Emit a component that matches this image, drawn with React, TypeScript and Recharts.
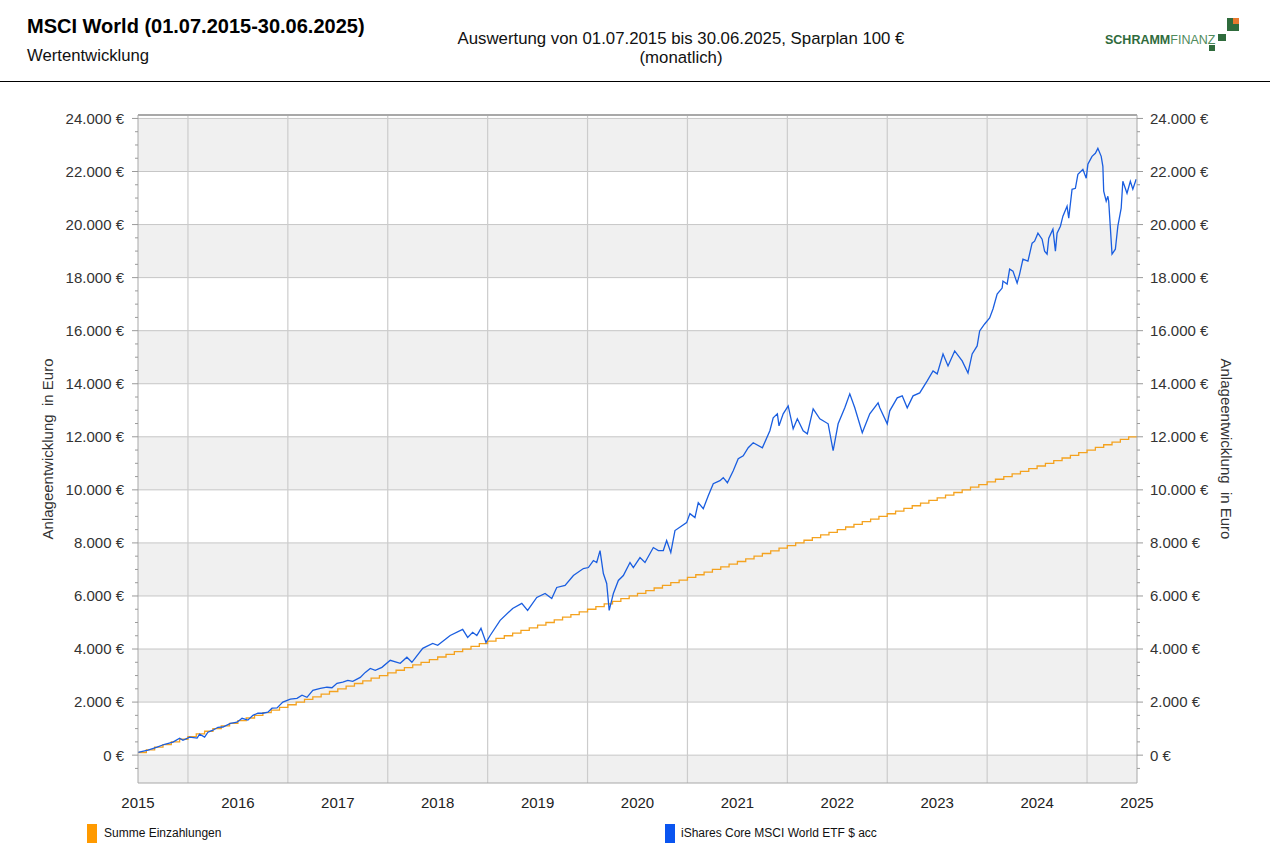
import React from "react";
import {
  LineChart,
  Line,
  XAxis,
  YAxis,
  ReferenceArea,
  ReferenceLine,
} from "recharts";

// x = months since 01.07.2015
const xTickMonths = [0, 12, 24, 36, 48, 60, 72, 84, 96, 108, 120];
const yearLabels = ["2015", "2016", "2017", "2018", "2019", "2020", "2021", "2022", "2023", "2024", "2025"];
const yearStartMonths = [6, 18, 30, 42, 54, 66, 78, 90, 102, 114];

const yMajor = [0, 2000, 4000, 6000, 8000, 10000, 12000, 14000, 16000, 18000, 20000, 22000, 24000];
const bandStarts = [-2000, 2000, 6000, 10000, 14000, 18000, 22000];

// Summe Einzahlungen (Sparplan 100 € monatlich), one value per month
const payments = [
  100, 200, 300, 400, 500, 600, 700, 800, 900, 1000, 1100, 1200,
  1300, 1400, 1500, 1600, 1700, 1800, 1900, 2000, 2100, 2200, 2300, 2400,
  2500, 2600, 2700, 2800, 2900, 3000, 3100, 3200, 3300, 3400, 3500, 3600,
  3700, 3800, 3900, 4000, 4100, 4200, 4300, 4400, 4500, 4600, 4700, 4800,
  4900, 5000, 5100, 5200, 5300, 5400, 5500, 5600, 5700, 5800, 5900, 6000,
  6100, 6200, 6300, 6400, 6500, 6600, 6700, 6800, 6900, 7000, 7100, 7200,
  7300, 7400, 7500, 7600, 7700, 7800, 7900, 8000, 8100, 8200, 8300, 8400,
  8500, 8600, 8700, 8800, 8900, 9000, 9100, 9200, 9300, 9400, 9500, 9600,
  9700, 9800, 9900, 10000, 10100, 10200, 10300, 10400, 10500, 10600, 10700, 10800,
  10900, 11000, 11100, 11200, 11300, 11400, 11500, 11600, 11700, 11800, 11900, 12000,
  12000,
];

// iShares Core MSCI World ETF $ acc: [month, Depotwert]
const etfSeries: [number, number][] = [
  [0, 100], [1.2, 190], [2.3, 300], [3.2, 410], [4.2, 490], [5.0, 640], [5.4, 560],
  [6.2, 680], [7.1, 640], [7.4, 790], [8.0, 680], [8.4, 865], [9.0, 940], [9.6, 1050],
  [10.2, 1060], [11.1, 1200], [11.9, 1240], [12.5, 1390], [13.2, 1320], [13.8, 1500],
  [14.4, 1580], [15.0, 1580], [15.6, 1620], [16.1, 1770], [16.7, 1780], [17.4, 2000],
  [18.3, 2110], [19.1, 2140], [19.7, 2260], [20.3, 2180], [21.0, 2445], [21.9, 2520],
  [22.7, 2560], [23.3, 2540], [23.9, 2710], [24.6, 2750], [25.2, 2820], [25.8, 2780],
  [26.7, 2930], [27.3, 3120], [27.9, 3270], [28.5, 3200], [29.3, 3310], [30.3, 3574],
  [31.5, 3460], [32.3, 3690], [32.9, 3500], [34.2, 4025], [35.4, 4210], [36.0, 4140],
  [37.5, 4510], [39.0, 4740], [39.6, 4440], [40.2, 4630], [40.7, 4510], [41.2, 4780],
  [41.8, 4250], [42.3, 4510], [43.5, 5080], [45.0, 5530], [46.1, 5720], [46.8, 5455],
  [47.9, 5944], [48.9, 6094], [49.7, 5906], [50.3, 6320], [51.3, 6395], [52.3, 6772],
  [53.5, 7035], [54.1, 7072], [54.7, 7336], [55.1, 7260], [55.5, 7712], [55.9, 6847],
  [56.3, 6470], [56.6, 5455], [57.1, 6094], [57.7, 6584], [58.3, 6772], [59.1, 7260],
  [59.5, 7072], [60.3, 7449], [60.9, 7260], [61.9, 7825], [62.5, 7712], [63.1, 7712],
  [63.5, 8088], [64.0, 7637], [64.5, 8465], [65.9, 8765], [66.3, 9104], [66.9, 8954],
  [67.3, 9518], [67.9, 9292], [68.5, 9781], [69.1, 10233], [69.9, 10346], [70.3, 10458],
  [70.8, 10270], [71.5, 10722], [72.1, 11173], [72.7, 11286], [73.3, 11587], [73.9, 11775],
  [75.0, 11587], [75.9, 12227], [76.3, 12716], [76.8, 12866], [77.0, 12415], [77.5, 12866],
  [78.1, 13167], [78.7, 12302], [79.2, 12678], [79.9, 12227], [80.4, 12113], [81.1, 13054],
  [81.9, 12678], [82.9, 12490], [83.5, 11474], [84.1, 12490], [84.9, 13092], [85.5, 13618],
  [86.1, 13092], [87.0, 12151], [87.9, 12866], [88.9, 13280], [89.1, 13092], [90.0, 12490],
  [90.3, 12979], [91.2, 13468], [91.8, 13543], [92.4, 13092], [93.1, 13543], [93.9, 13656],
  [94.8, 14108], [95.5, 14484], [96.0, 14371], [96.7, 15123], [97.3, 14672], [98.1, 15236],
  [99.0, 14860], [99.7, 14408], [100.2, 15123], [100.8, 15424], [101.1, 15989], [101.7, 16252],
  [102.3, 16477], [102.7, 16816], [103.2, 17380], [103.8, 17606], [103.9, 17870], [104.4, 17757],
  [104.7, 18321], [105.1, 18246], [105.6, 17795], [105.9, 18133], [106.3, 18697], [106.9, 18622],
  [107.4, 19299], [107.7, 19374], [108.1, 19675], [108.6, 19449], [108.9, 18998], [109.2, 18885],
  [109.4, 19487], [109.9, 19826], [110.2, 18998], [110.4, 19675], [110.8, 19938], [111.1, 20315],
  [111.6, 20691], [111.8, 20240], [112.2, 21331], [112.6, 21368], [112.9, 21895], [113.5, 22083],
  [113.9, 21744], [114.1, 22271], [114.6, 22572], [115.0, 22685], [115.3, 22873], [115.7, 22572],
  [115.9, 22196], [116.0, 21255], [116.3, 20879], [116.5, 21067], [116.6, 20879], [117.0, 18885],
  [117.4, 19073], [117.7, 19938], [118.1, 20616], [118.3, 21632], [118.8, 21180], [119.2, 21632],
  [119.5, 21331], [119.9, 21707],
];

const FONT = '"Liberation Sans", Arial, Helvetica, sans-serif';
const PLOT_LEFT = 138;
const PLOT_RIGHT = 1137;
const Y_DOMAIN: [number, number] = [-1050, 24130];

const yTicks = [-500, ...yMajor.flatMap((v) => (v < 24000 ? [v, v + 500, v + 1000, v + 1500] : [v]))];

const fmtEuro = (v: number) =>
  String(v).replace(/\B(?=(\d{3})+(?!\d))/g, ".") + " €";

const LeftTick = (props: any) => {
  const { y, payload } = props;
  const major = payload.value % 2000 === 0;
  return (
    <g>
      <line x1={major ? PLOT_LEFT - 6 : PLOT_LEFT - 3} x2={PLOT_LEFT} y1={y} y2={y} stroke="#9a9a9a" />
      {major && (
        <text x={PLOT_LEFT - 14} y={y} dy="0.36em" textAnchor="end" fontSize={15} fill="#333" fontFamily={FONT}>
          {fmtEuro(payload.value)}
        </text>
      )}
    </g>
  );
};

const RightTick = (props: any) => {
  const { y, payload } = props;
  const major = payload.value % 2000 === 0;
  return (
    <g>
      <line x1={PLOT_RIGHT} x2={major ? PLOT_RIGHT + 6 : PLOT_RIGHT + 3} y1={y} y2={y} stroke="#9a9a9a" />
      {major && (
        <text x={PLOT_RIGHT + 13} y={y} dy="0.36em" textAnchor="start" fontSize={15} fill="#333" fontFamily={FONT}>
          {fmtEuro(payload.value)}
        </text>
      )}
    </g>
  );
};

const AxisTitle = ({ x, angle }: { x: number; angle: number }) => (
  <text
    x={x}
    y={449}
    transform={`rotate(${angle} ${x} 449)`}
    textAnchor="middle"
    dy="0.35em"
    fontSize={15}
    fill="#333"
    fontFamily={FONT}
    style={{ whiteSpace: "pre" }}
  >
    {"Anlageentwicklung  in Euro"}
  </text>
);

export default function App() {
  const payData = payments.map((v, i) => ({ m: i, v }));
  const etfData = etfSeries.map(([m, v]) => ({ m, v }));

  return (
    <div
      style={{
        position: "absolute",
        left: 0,
        top: 0,
        width: 1270,
        height: 852,
        background: "#fff",
        fontFamily: FONT,
        overflow: "hidden",
      }}
    >
      <div style={{ position: "absolute", left: 0, top: 0 }}>
        <LineChart width={1270} height={852} margin={{ top: 115, right: 0, bottom: 39, left: 0 }}>
          {bandStarts.map((b) => (
            <ReferenceArea
              key={b}
              yAxisId="left"
              y1={b}
              y2={b + 2000}
              ifOverflow="hidden"
              fill="#f0f0f0"
              fillOpacity={1}
              stroke="none"
            />
          ))}
          {yMajor.map((v) => (
            <ReferenceLine key={"h" + v} yAxisId="left" y={v} stroke="#c6c6c6" strokeWidth={1} />
          ))}
          {yearStartMonths.map((m) => (
            <ReferenceLine key={"v" + m} yAxisId="left" x={m} stroke="#cccccc" strokeWidth={1.2} />
          ))}
          <ReferenceLine yAxisId="left" y={Y_DOMAIN[1]} stroke="#a8a8a8" strokeWidth={2} />
          <XAxis
            dataKey="m"
            type="number"
            domain={[0, 120]}
            ticks={xTickMonths}
            interval={0}
            tickFormatter={(m: number) => yearLabels[xTickMonths.indexOf(m)]}
            tickLine={false}
            tickMargin={8}
            height={30}
            axisLine={{ stroke: "#a8a8a8" }}
            tick={{ fontSize: 15, fill: "#222", fontFamily: FONT }}
          />
          <YAxis
            yAxisId="left"
            orientation="left"
            type="number"
            domain={Y_DOMAIN}
            ticks={yTicks}
            interval={0}
            width={PLOT_LEFT}
            tickLine={false}
            axisLine={{ stroke: "#a8a8a8" }}
            tick={<LeftTick />}
            label={{ content: () => <AxisTitle x={48} angle={-90} /> }}
          />
          <YAxis
            yAxisId="right"
            orientation="right"
            type="number"
            domain={Y_DOMAIN}
            ticks={yTicks}
            interval={0}
            width={1270 - PLOT_RIGHT}
            tickLine={false}
            axisLine={{ stroke: "#a8a8a8" }}
            tick={<RightTick />}
            label={{ content: () => <AxisTitle x={1226} angle={90} /> }}
          />
          <Line
            yAxisId="right"
            data={payData}
            dataKey="v"
            type="stepAfter"
            stroke="#f4a21f"
            strokeWidth={1.3}
            dot={false}
            activeDot={false}
            isAnimationActive={false}
          />
          <Line
            yAxisId="left"
            data={etfData}
            dataKey="v"
            type="linear"
            stroke="#1a5ee0"
            strokeWidth={1.3}
            dot={false}
            activeDot={false}
            isAnimationActive={false}
          />
        </LineChart>
      </div>

      {/* header */}
      <div style={{ position: "absolute", left: 27, top: 15, fontSize: 20, fontWeight: "bold", color: "#000" }}>
        MSCI World (01.07.2015-30.06.2025)
      </div>
      <div style={{ position: "absolute", left: 27, top: 46, fontSize: 16.7, color: "#111" }}>Wertentwicklung</div>
      <div
        style={{
          position: "absolute",
          left: 381,
          top: 29,
          width: 600,
          textAlign: "center",
          fontSize: 16.8,
          lineHeight: "19px",
          color: "#111",
        }}
      >
        Auswertung von 01.07.2015 bis 30.06.2025, Sparplan 100 €
        <br />
        (monatlich)
      </div>
      <div style={{ position: "absolute", left: 1105, top: 33, fontSize: 12.5, whiteSpace: "nowrap" }}>
        <span style={{ fontWeight: "bold", color: "#2f6b3c" }}>SCHRAMM</span>
        <span style={{ color: "#4f8a5c" }}>FINANZ</span>
      </div>
      <div style={{ position: "absolute", left: 1227, top: 18, width: 12, height: 13, background: "#2f6b3c" }} />
      <div style={{ position: "absolute", left: 1233, top: 18, width: 6, height: 6, background: "#e8782e" }} />
      <div style={{ position: "absolute", left: 1218, top: 34, width: 8, height: 7, background: "#2f6b3c" }} />
      <div style={{ position: "absolute", left: 1209, top: 45, width: 6, height: 6, background: "#2f6b3c" }} />
      <div style={{ position: "absolute", left: 0, top: 81, width: 1270, height: 1, background: "#000" }} />

      {/* legend */}
      <div style={{ position: "absolute", left: 87, top: 824, width: 10, height: 19, background: "#ff9a00" }} />
      <div style={{ position: "absolute", left: 104, top: 826, fontSize: 12, color: "#111" }}>Summe Einzahlungen</div>
      <div style={{ position: "absolute", left: 665, top: 824, width: 10, height: 19, background: "#0a55f0" }} />
      <div style={{ position: "absolute", left: 681, top: 826, fontSize: 12, color: "#111" }}>
        iShares Core MSCI World ETF $ acc
      </div>
    </div>
  );
}
